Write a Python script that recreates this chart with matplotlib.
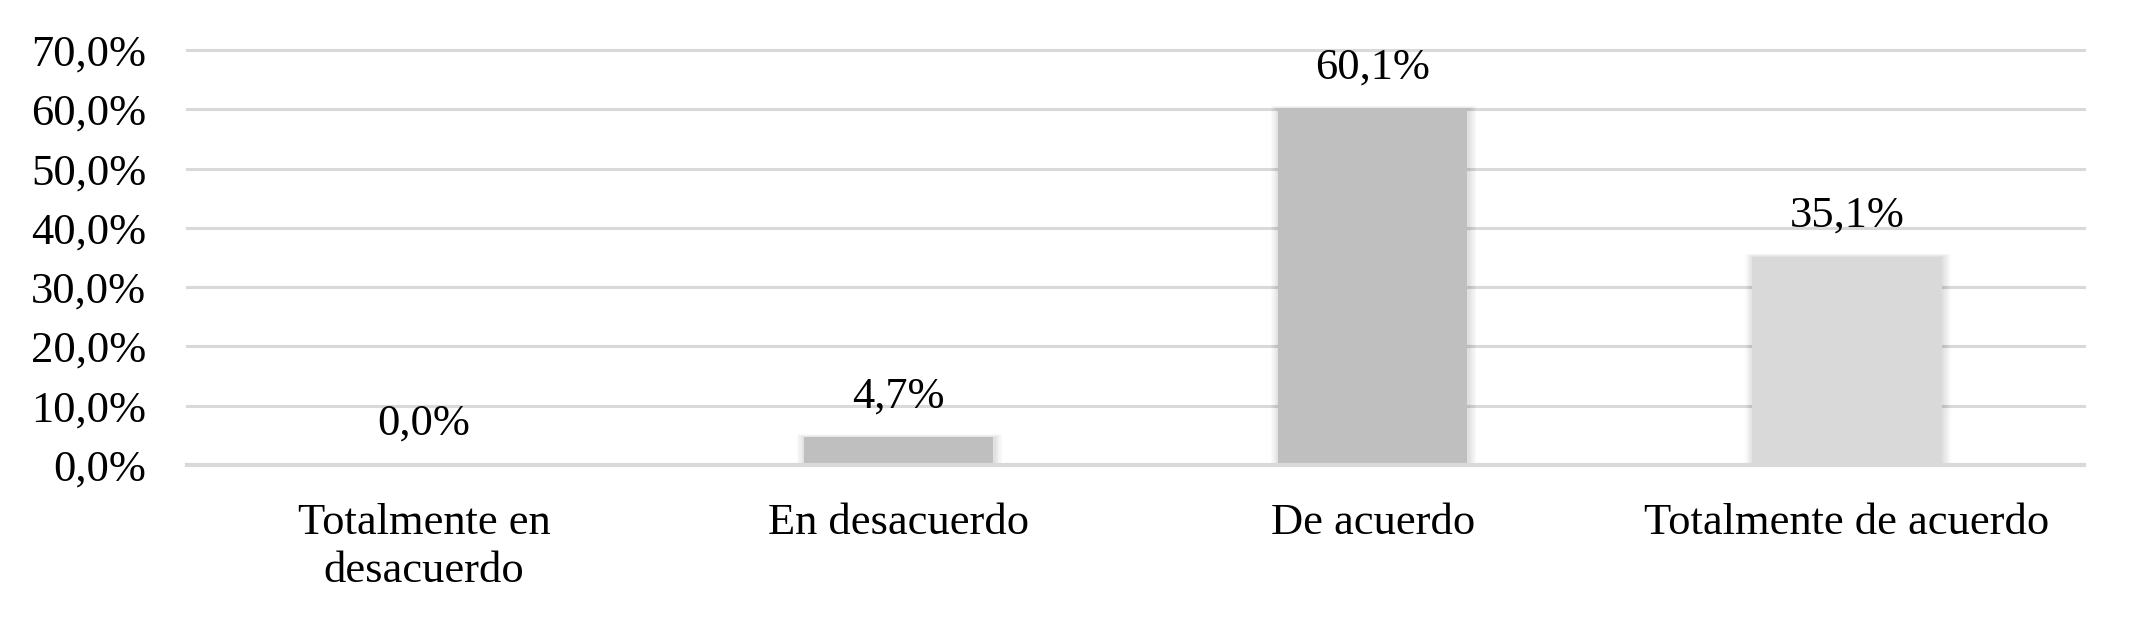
import matplotlib
matplotlib.use("Agg")
import matplotlib.pyplot as plt
import numpy as np

categories = ["Totalmente en\ndesacuerdo", "En desacuerdo", "De acuerdo", "Totalmente de acuerdo"]
values = [0.0, 4.7, 60.1, 35.1]
value_labels = ["0,0%", "4,7%", "60,1%", "35,1%"]
yticks = [0, 10, 20, 30, 40, 50, 60, 70]
ytick_labels = ["0,0%", "10,0%", "20,0%", "30,0%", "40,0%", "50,0%", "60,0%", "70,0%"]
bar_colors = ["#a5a5a5", "#bfbfbf", "#bfbfbf", "#d9d9d9"]

plt.rcParams['font.family'] = ['Liberation Serif', 'DejaVu Serif']

fig = plt.figure(figsize=(21.35, 6.26), dpi=100)
ax = fig.add_axes([187/2135, 161/626, 1897/2135, 415/626])

x = np.arange(len(categories))
bw = 0.40
px_x = 1/474.25
px_y = 10/59.3

# soft shadow
for k in range(1, 7):
    ax.bar(x + 1.0*px_x, [v + (k*0.5*px_y if v > 0 else 0) for v in values],
           width=bw + 2*k*1.3*px_x, color="black", alpha=0.02, zorder=2, linewidth=0)

ax.bar(x, values, width=bw, color=bar_colors, zorder=3, linewidth=0)

for i, (v, lab) in enumerate(zip(values, value_labels)):
    ax.annotate(lab, xy=(x[i], v), xytext=(0, 21.6), textcoords="offset points",
                ha="center", va="baseline", fontsize=32, color="black", zorder=5)

ax.set_xlim(-0.5, len(categories) - 0.5)
ax.set_ylim(0, 70)
for y in yticks:
    if y == 0:
        ax.axhline(y, color="#d9d9d9", linewidth=3.0, zorder=4, clip_on=False)
    else:
        ax.axhline(y, color="#d9d9d9", linewidth=2.2, zorder=1, clip_on=False)

ax.set_yticks(yticks)
ax.set_yticklabels(ytick_labels, fontsize=32)
ax.set_xticks(x)
ax.set_xticklabels(categories, fontsize=32, linespacing=1.28, va="top")
ax.tick_params(axis="y", length=0, pad=29.5)
ax.tick_params(axis="x", length=0, pad=27)
for s in ax.spines.values():
    s.set_visible(False)

fig.savefig("out.png", dpi=100, facecolor="white")
